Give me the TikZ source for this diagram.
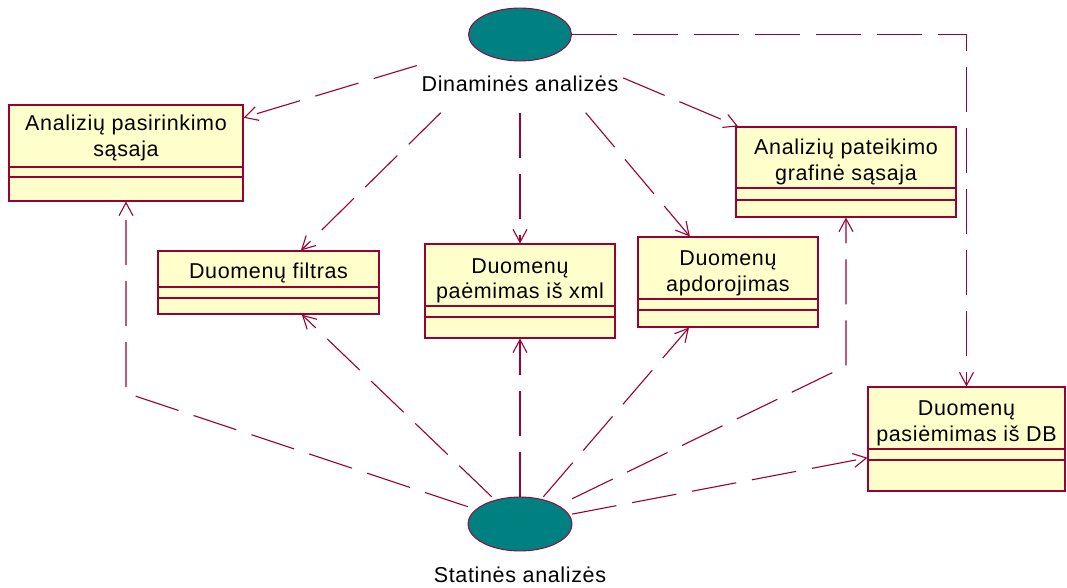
\documentclass[tikz,border=0pt]{standalone}
\usepackage{fontspec}
\setmainfont{Liberation Sans}[LetterSpace=3,Ligatures=CommonOff]
\usetikzlibrary{arrows.meta,shapes.geometric}

\definecolor{rosered}{RGB}{153,0,51}
\definecolor{roseteal}{RGB}{0,128,128}
\definecolor{roseyellow}{RGB}{255,255,204}

\tikzset{
  dep/.style={draw=rosered, line width=1.1pt, dash pattern=on 45pt off 16pt,
    -{Straight Barb[length=13pt,width=14pt]}},
  classbox/.style={rectangle, draw=rosered, fill=roseyellow, line width=1.1pt, inner sep=0pt},
  divider/.style={draw=rosered, line width=1.1pt},
  usecase/.style={ellipse, draw=rosered, fill=roseteal, line width=0.9pt, inner sep=0pt},
  zone/.style={rectangle, inner sep=0pt, draw=none},
  lbl/.style={font=\fontsize{21.5}{26}\selectfont, anchor=base, inner sep=0pt},
}

% class box: name, centre, width, height, first and second compartment lines
\newcommand\umlclass[6]{%
  \node[classbox, minimum width=#3pt, minimum height=#4pt] (#1) at (#2) {};
  \draw[divider] (#1.west |- 0,#5) -- (#1.east |- 0,#5);
  \draw[divider] (#1.west |- 0,#6) -- (#1.east |- 0,#6);
}

\begin{document}
\begin{tikzpicture}[x=1pt,y=-1pt]
\useasboundingbox (0,0) rectangle (1067,588);

% use cases
\node[usecase, minimum width=103pt, minimum height=53pt] (dyn) at (520,34.5) {};
\node[lbl] (dynlabel) at (520,92) {Dinaminės analizės};
\node[zone, minimum width=206pt, minimum height=156pt] (dynzone) at (520,34.5) {};

\node[usecase, minimum width=104pt, minimum height=54pt] (stat) at (520,524) {};
\node[lbl] (statlabel) at (520,582) {Statinės analizės};
\node[zone, minimum width=104pt, minimum height=54pt] (statzone) at (520,524) {};

% classes
\umlclass{sel}{126,153}{234}{96}{167}{177}
\node[lbl] (sel-a) at (126,131) {Analizių pasirinkimo};
\node[lbl] (sel-b) at (126,157) {sąsaja};

\umlclass{gui}{846,172}{220}{90}{188}{200}
\node[lbl] (gui-a) at (846,155) {Analizių pateikimo};
\node[lbl] (gui-b) at (846,180) {grafinė sąsaja};

\umlclass{filt}{268.5,282.5}{221}{63}{287}{298}
\node[lbl] (filt-a) at (268.5,278) {Duomenų filtras};

\umlclass{xml}{520,291}{190}{94}{306}{317}
\node[lbl] (xml-a) at (520,273) {Duomenų};
\node[lbl] (xml-b) at (520,298.5) {paėmimas iš xml};

\umlclass{proc}{728,282}{180}{90}{299}{310}
\node[lbl] (proc-a) at (728,265) {Duomenų};
\node[lbl] (proc-b) at (728,291) {apdorojimas};

\umlclass{db}{966.5,439}{197}{104}{449}{460}
\node[lbl] (db-a) at (966.5,415) {Duomenų};
\node[lbl] (db-b) at (966.5,441) {pasiėmimas iš DB};

% bends of the routed dependencies
\coordinate (bendsel) at (126,393);
\coordinate (bendgui) at (846,366);

% dependencies from the dynamic analysis
\draw[dep] (dynzone) -- (sel);
\draw[dep] (dynzone) -- (filt);
\draw[dep] (dynzone) -- (xml);
\draw[dep] (dynzone) -- (proc);
\draw[dep] (dynzone) -- (gui);
\draw[dep] (dyn.east) -| (db);

% dependencies from the static analysis
\draw[dep] (statzone) -- (bendsel) -- (sel);
\draw[dep] (statzone) -- (filt);
\draw[dep] (statzone) -- (xml);
\draw[dep] (statzone) -- (proc);
\draw[dep] (statzone) -- (bendgui) -- (gui);
\draw[dep] (statzone) -- (db);
\end{tikzpicture}
\end{document}
